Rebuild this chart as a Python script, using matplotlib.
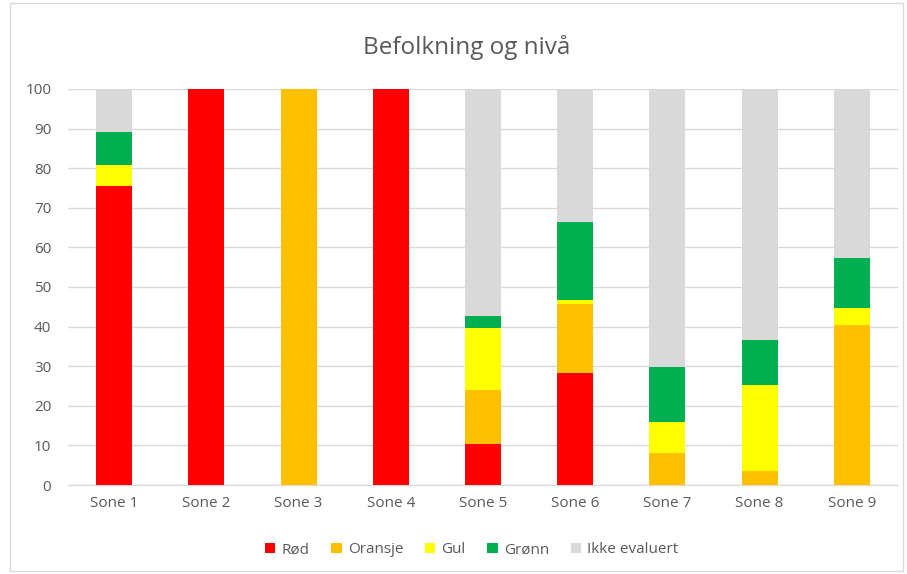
import matplotlib
matplotlib.use("Agg")
import matplotlib.pyplot as plt
import numpy as np

categories = ["Sone 1", "Sone 2", "Sone 3", "Sone 4", "Sone 5", "Sone 6", "Sone 7", "Sone 8", "Sone 9"]
rod = [75.6, 100, 0, 100, 10.3, 28.2, 0, 0, 0]
oransje = [0, 0, 100, 0, 13.7, 17.5, 8.2, 3.6, 40.3]
gul = [5.3, 0, 0, 0, 15.6, 1.1, 7.7, 21.7, 4.3]
gronn = [8.3, 0, 0, 0, 3.2, 19.5, 13.8, 11.4, 12.6]
ikke = [10.8, 0, 0, 0, 57.2, 33.7, 70.3, 63.3, 42.8]

series = [("Rød", rod, "#FF0000"), ("Oransje", oransje, "#FFC000"),
          ("Gul", gul, "#FFFF00"), ("Grønn", gronn, "#00B050"),
          ("Ikke evaluert", ikke, "#D9D9D9")]

plt.rcParams['font.family'] = ['Open Sans', 'DejaVu Sans']
txt = "#595959"

fig = plt.figure(figsize=(9.07, 5.74), dpi=100)
ax = fig.add_axes([0.075, 0.155, 0.915, 0.69])
x = np.arange(len(categories))
bottom = np.zeros(len(categories))
for name, vals, col in series:
    v = np.array(vals, dtype=float)
    ax.bar(x, v, 0.39, bottom=bottom, color=col, label=name, zorder=3)
    bottom += v

ax.set_xlim(-0.5, len(categories) - 0.5)
ax.set_ylim(0, 100)
ax.set_yticks(range(0, 101, 10))
ax.set_xticks(x)
ax.set_xticklabels(categories)
ax.grid(axis='y', color="#D9D9D9", linewidth=1, zorder=0)
for s in ["top", "right", "left"]:
    ax.spines[s].set_visible(False)
ax.spines["bottom"].set_color("#D9D9D9")
ax.tick_params(axis='both', length=0, colors=txt, labelsize=11, pad=8)
ax.tick_params(axis='y', pad=12)

fig.text(0.515, 0.918, "Befolkning og nivå", ha='center', va='center', fontsize=17.5, color=txt)
leg = fig.legend(loc='center', bbox_to_anchor=(0.52, 0.042), ncol=5, frameon=False,
                 fontsize=11, handlelength=0.7, handleheight=0.7, handletextpad=0.4,
                 columnspacing=1.4)
for t in leg.get_texts():
    t.set_color(txt)

fig.patches.append(matplotlib.patches.Rectangle((0.011, 0.005), 0.985, 0.99, transform=fig.transFigure,
                                                fill=False, edgecolor="#D9D9D9", linewidth=1))
fig.savefig("out.png", dpi=100)
